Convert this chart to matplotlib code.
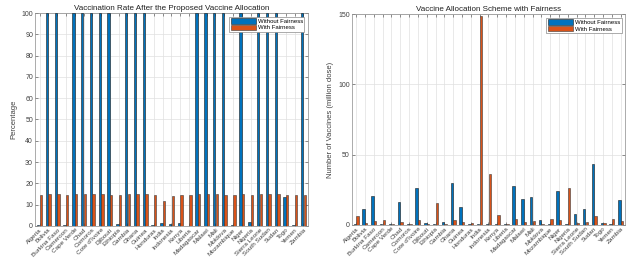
import matplotlib
matplotlib.use("Agg")
import matplotlib.pyplot as plt
import numpy as np

plt.rcParams['font.family'] = ['Liberation Sans', 'DejaVu Sans']

countries = ["Algeria", "Bolivia", "Burkina Faso", "Cameroon", "Cape Verde", "Chad",
             "Comoros", "Cote d'Ivoire", "Djibouti", "Ethiopia", "Gambia", "Ghana",
             "Guinea", "Honduras", "India", "Indonesia", "Kenya", "Liberia",
             "Madagascar", "Malawi", "Mali", "Moldova", "Mozambique", "Niger",
             "Nigeria", "Sierra Leone", "South Sudan", "Sudan", "Togo", "Yemen", "Zambia"]

rate_without = [0.5, 100, 100, 0.3, 100, 100, 100, 100, 100, 1.0, 100, 100, 100, 0.3,
                1.4, 0.9, 1.4, 0.2, 100, 100, 100, 100, 0.5, 100, 1.9, 100, 100, 100,
                13.5, 0.3, 100]
rate_with = [14.7, 14.8, 14.8, 14.7, 14.9, 14.9, 15.1, 15.2, 14.7, 14.7, 14.8, 14.8,
             14.8, 14.7, 11.8, 14.2, 14.7, 14.7, 14.9, 14.9, 14.9, 14.7, 14.7, 15.2,
             14.7, 15.0, 15.1, 14.9, 14.7, 14.7, 14.7]

alloc_without = [0.5, 11.5, 20.5, 0.3, 0.6, 16.5, 0.8, 26.0, 1.0, 0.3, 2.2, 29.5,
                 13.0, 0.3, 0.5, 0.5, 0.3, 0.3, 27.5, 18.5, 20.0, 3.8, 0.3, 24.0,
                 0.5, 8.0, 11.0, 43.0, 1.0, 0.3, 18.0]
alloc_with = [6.5, 1.5, 3.0, 3.8, 0.3, 2.3, 0.3, 3.8, 0.3, 15.8, 0.5, 3.5,
              1.8, 1.5, 148.5, 36.0, 7.3, 0.8, 4.2, 2.3, 3.0, 0.5, 4.5, 3.5,
              26.0, 1.0, 1.8, 6.0, 1.0, 4.3, 2.7]

legend_labels = ["Without Fairness", "With Fairness"]
blue = "#0072BD"
orange = "#D95319"

fig = plt.figure(figsize=(6.27, 2.6), dpi=100)
ax1 = fig.add_axes([0.056, 0.131, 0.435, 0.819])
ax2 = fig.add_axes([0.561, 0.135, 0.436, 0.811])

x = np.arange(1, len(countries) + 1)
w = 0.27
off = 0.15

def style(ax, d1, d2, ylim, yticks, title, ylabel):
    ax.bar(x - off, d1, width=w, color=blue, edgecolor="#1a1a1a", linewidth=0.4,
           label=legend_labels[0], zorder=3)
    ax.bar(x + off, d2, width=w, color=orange, edgecolor="#3a3a3a", linewidth=0.4,
           label=legend_labels[1], zorder=3)
    ax.set_xlim(0.5, len(countries) + 0.5)
    ax.set_ylim(*ylim)
    ax.set_yticks(yticks)
    ax.set_xticks(x)
    ax.set_xticklabels(countries, rotation=45, ha="right", rotation_mode="anchor",
                       fontsize=4.6, color="#404040")
    ax.tick_params(axis="y", labelsize=5, labelcolor="#404040")
    ax.tick_params(direction="in", length=2, width=0.4, color="#404040",
                   top=True, right=True, pad=1.5)
    ax.tick_params(axis="x", pad=1)
    ax.grid(True, color="#e0e0e0", linewidth=0.5, zorder=0)
    ax.set_axisbelow(True)
    for s in ax.spines.values():
        s.set_color("#8a8a8a")
        s.set_linewidth(0.5)
    ax.set_title(title, fontsize=5.8, color="#202020", pad=2)
    ax.set_ylabel(ylabel, fontsize=5.5, color="#404040", labelpad=3)
    leg = ax.legend(loc="upper right", fontsize=4.3, handlelength=4.2, handleheight=1.1,
                    borderpad=0.25, labelspacing=0.1, handletextpad=0.3,
                    fancybox=False, framealpha=1, edgecolor="#8a8a8a",
                    borderaxespad=0.6)
    leg.get_frame().set_linewidth(0.5)

style(ax1, rate_without, rate_with, (0, 100), np.arange(0, 101, 10),
      "Vaccination Rate After the Proposed Vaccine Allocation", "Percentage")
style(ax2, alloc_without, alloc_with, (0, 150), [0, 50, 100, 150],
      "Vaccine Allocation Scheme with Fairness", "Number of Vaccines (million dose)")

fig.savefig("out.png", dpi=100)
